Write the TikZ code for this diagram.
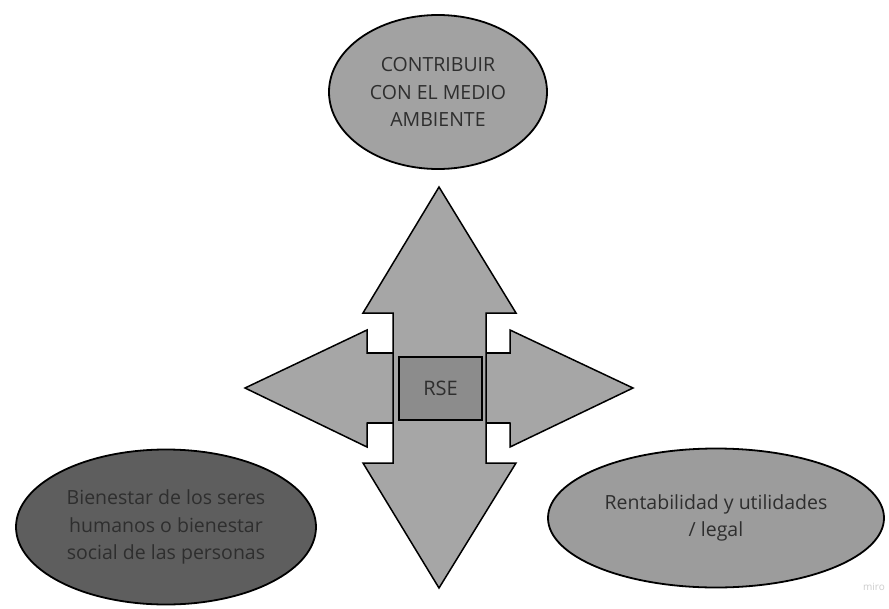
\documentclass[tikz,border=0pt]{standalone}
\usepackage{fontspec}
\setmainfont{Open Sans}
\usetikzlibrary{shapes.geometric}
\definecolor{arrowgray}{HTML}{A6A6A6}
\definecolor{boxgray}{HTML}{8C8C8C}
\definecolor{topgray}{HTML}{A2A2A2}
\definecolor{leftgray}{HTML}{5E5E5E}
\definecolor{rightgray}{HTML}{9C9C9C}
\definecolor{txtgray}{HTML}{2E2E2E}
\begin{document}
\begin{tikzpicture}[x=1pt,y=-1pt,
  arrowshape/.style={fill=arrowgray,draw=black,line width=1.5pt,line join=miter},
  goal/.style={ellipse,draw=black,line width=1.8pt,text=txtgray,align=center,font=\fontsize{19.5}{27.5}\selectfont,inner sep=0pt},
  centerbox/.style={rectangle,fill=boxgray,draw=black,line width=2.5pt,text=txtgray,font=\fontsize{20}{24}\selectfont}]
\useasboundingbox (0,0) rectangle (889,608);
\fill[white] (0,0) rectangle (889,608);
% horizontal double arrow
\draw[arrowshape] (245,388) -- (367,330) -- (367,353) -- (510,353) -- (510,330) -- (633,388)
  -- (510,447) -- (510,423) -- (367,423) -- (367,447) -- cycle;
% vertical double arrow
\draw[arrowshape] (439,187) -- (516,313) -- (486,313) -- (486,463) -- (516,463) -- (439,588)
  -- (363,463) -- (393,463) -- (393,313) -- (363,313) -- cycle;
% redraw horizontal outline parts outside the vertical shaft
\fill[arrowgray] (368,354) rectangle (392,422);
\fill[arrowgray] (487,354) rectangle (509,422);
\draw[black,line width=1.5pt] (367,353) -- (393,353) (367,423) -- (393,423)
  (486,353) -- (510,353) (486,423) -- (510,423);
\node[centerbox,minimum width=83pt,minimum height=63pt] (rse) at (440.5,388.5) {RSE};
\node[goal,fill=topgray,minimum width=218pt,minimum height=154pt] (top) at (438,92)
  {CONTRIBUIR\\CON EL MEDIO\\AMBIENTE};
\node[goal,fill=leftgray,minimum width=300pt,minimum height=155pt] (left) at (166,527)
  {Bienestar de los seres\\humanos o bienestar\\social de las personas};
\node[goal,fill=rightgray,minimum width=336pt,minimum height=139pt] (right) at (716,518)
  {Rentabilidad y utilidades\\/ legal};
\node[text=black!20,font=\fontsize{10}{11}\selectfont] (miro) at (874,587) {miro};
\end{tikzpicture}
\end{document}
